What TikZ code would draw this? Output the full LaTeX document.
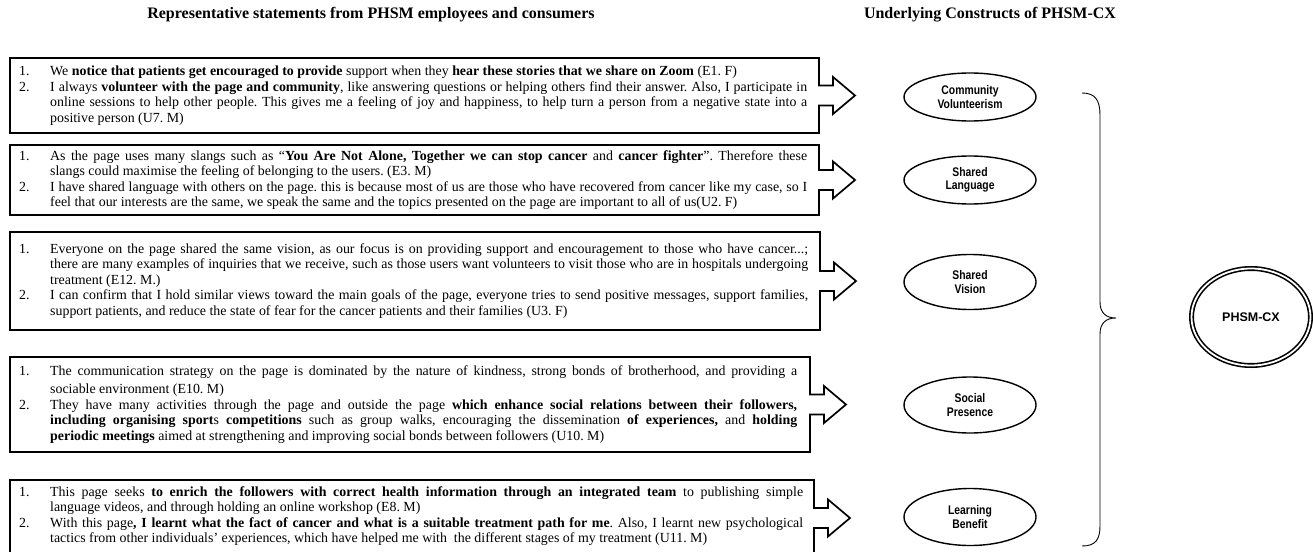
\documentclass[tikz,border=0pt]{standalone}
\usepackage{fontspec}
\setmainfont{Liberation Serif}
\newfontfamily\lsans[FakeStretch=0.83]{Liberation Sans}
\newfontfamily\hsans{Liberation Sans}
\usetikzlibrary{shapes.geometric}
\frenchspacing
\newlength{\tw}
\newcommand{\NL}[2]{\makebox[31pt][l]{#1}\makebox[\tw][s]{#2}}
\newcommand{\NR}[2]{\makebox[31pt][l]{#1}#2}
\newcommand{\JL}[1]{\hspace*{31pt}\makebox[\tw][s]{#1}}
\newcommand{\RL}[1]{\hspace*{31pt}#1}
\newcommand{\ABox}[3]{%
\draw[boxline] (10,#1) -- (#3,#1) -- (#3,{(#1+#2)/2-10}) -- ({#3+14},{(#1+#2)/2-10})
 -- ({#3+14},{(#1+#2)/2-18.5}) -- ({#3+36},{(#1+#2)/2}) -- ({#3+14},{(#1+#2)/2+18.5})
 -- ({#3+14},{(#1+#2)/2+10}) -- (#3,{(#1+#2)/2+10}) -- (#3,#2) -- (10,#2) -- cycle;}
\begin{document}
\begin{tikzpicture}[x=1pt,y=-1pt,
  boxline/.style={line width=1.7pt, line join=miter},
  stmt/.style={anchor=west, inner sep=0pt, align=left, font=\frenchspacing\fontsize{13.9}{15.5}\selectfont},
  construct/.style={draw, line width=1.4pt, ellipse, minimum width=132pt, inner sep=0pt, align=center, font=\lsans\bfseries\fontsize{12.5}{13.5}\selectfont},
  title/.style={font=\bfseries\fontsize{16}{18}\selectfont, inner sep=0pt}]
\useasboundingbox (0,0) rectangle (1313,551);

\node[title] (tl) at (371,15) {Representative statements from PHSM employees and consumers};
\node[title] (tr) at (990,15) {Underlying Constructs of PHSM-CX};

% box 1
\ABox{58}{133}{819}
\setlength{\tw}{757pt}
\node[stmt] (t1) at (19,95.5) {%
\NR{1.}{We \textbf{notice that patients get encouraged to provide} support when they \textbf{hear these stories that we share on Zoom} (E1. F)}\\
\NL{2.}{I always \textbf{volunteer with the page and community}, like answering questions or helping others find their answer. Also, I participate in}\\
\JL{online sessions to help other people. This gives me a feeling of joy and happiness, to help turn a person from a negative state into a}\\
\RL{positive person (U7. M)}};

% box 2
\ABox{145}{215}{819}
\setlength{\tw}{757pt}
\node[stmt] (t2) at (19,180) {%
\NL{1.}{As the page uses many slangs such as ``\textbf{You Are Not Alone, Together we can stop cancer} and \textbf{cancer fighter}''. Therefore these}\\
\RL{slangs could maximise the feeling of belonging to the users. (E3. M)}\\
\NL{2.}{I have shared language with others on the page. this is because most of us are those who have recovered from cancer like my case, so I}\\
\RL{feel that our interests are the same, we speak the same and the topics presented on the page are important to all of us(U2. F)}};

% box 3
\ABox{232}{330}{820}
\setlength{\tw}{758pt}
\node[stmt] (t3) at (19,281) {%
\NL{1.}{Everyone on the page shared the same vision, as our focus is on providing support and encouragement to those who have cancer...;}\\
\JL{there are many examples of inquiries that we receive, such as those users want volunteers to visit those who are in hospitals undergoing}\\
\RL{treatment (E12. M.)}\\
\NL{2.}{I can confirm that I hold similar views toward the main goals of the page, everyone tries to send positive messages, support families,}\\
\RL{support patients, and reduce the state of fear for the cancer patients and their families (U3. F)}};

% box 4
\ABox{357}{452}{810}
\setlength{\tw}{747pt}
\node[stmt] (t4) at (19,404.5) {%
\NL{1.}{The communication strategy on the page is dominated by the nature of kindness, strong bonds of brotherhood, and providing a}\\[3pt]
\RL{sociable environment (E10. M)}\\
\NL{2.}{They have many activities through the page and outside the page \textbf{which enhance social relations between their followers,}}\\
\JL{\textbf{including organising sport}s \textbf{competitions} such as group walks, encouraging the dissemination \textbf{of experiences,} and \textbf{holding}}\\
\RL{\textbf{periodic meetings} aimed at strengthening and improving social bonds between followers (U10. M)}};

% box 5
\ABox{480}{556}{814}
\setlength{\tw}{753pt}
\node[stmt] (t5) at (19,516) {%
\NL{1.}{This page seeks \textbf{to enrich the followers with correct health information through an integrated team} to publishing simple}\\
\RL{language videos, and through holding an online workshop (E8. M)}\\
\NL{2.}{With this page\textbf{, I learnt what the fact of cancer and what is a suitable treatment path for me}. Also, I learnt new psychological}\\
\RL{tactics from other individuals' experiences, which have helped me with\ \ the different stages of my treatment (U11. M)}};

% constructs
\node[construct, minimum height=48pt] (c1) at (970,97) {Community\\Volunteerism};
\node[construct, minimum height=48pt] (c2) at (970,180) {Shared\\Language};
\node[construct, minimum height=55pt] (c3) at (970,282) {Shared\\Vision};
\node[construct, minimum height=56pt] (c4) at (970,405) {Social\\Presence};
\node[construct, minimum height=57pt] (c5) at (970,517) {Learning\\Benefit};

% brace
\coordinate (bt) at (1082,93);
\coordinate (bm) at (1116,318);
\coordinate (bb) at (1082,546);
\draw[line width=0.9pt] (bt) .. controls (1095,93) and (1100,100) .. (1100,115)
  -- (1100,302) .. controls (1100,313) and (1106,318) .. (bm)
  .. controls (1106,318) and (1100,323) .. (1100,334)
  -- (1100,526) .. controls (1100,540) and (1095,546) .. (bb);

% PHSM-CX
\node[draw, ellipse, line width=1.6pt, double, double distance=1.8pt, minimum width=119pt, minimum height=97pt, inner sep=0pt, font=\hsans\bfseries\fontsize{12.5}{14}\selectfont] (cx) at (1251,317) {PHSM-CX};
\end{tikzpicture}
\end{document}
